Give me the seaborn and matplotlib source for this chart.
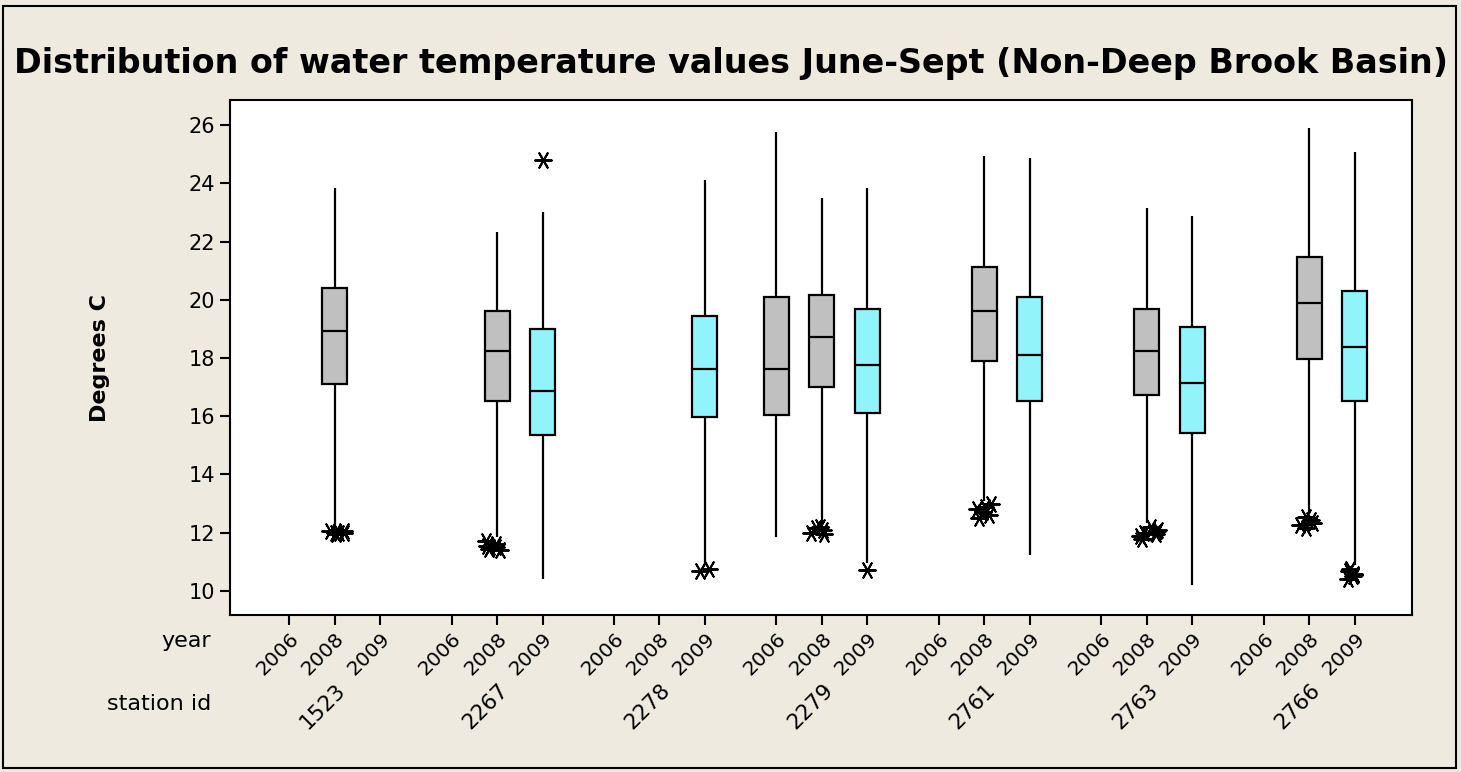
import numpy as np
import pandas as pd
import matplotlib
matplotlib.use('Agg')
import matplotlib.pyplot as plt
import seaborn as sns
from matplotlib.patches import Rectangle


# ---------------------------------------------- Data -----------------------------------------------

stations = ['1523', '2267', '2278', '2279', '2761', '2763', '2766']
years = ['2006', '2008', '2009']

# one entry per drawn box
box_station = ['1523', '2267', '2267', '2278', '2279', '2279', '2279', '2761', '2761', '2763', '2763', '2766', '2766']
box_year = ['2008', '2008', '2009', '2009', '2006', '2008', '2009', '2008', '2009', '2008', '2009', '2008', '2009']
box_low = [12.1, 11.85, 10.41, 10.9, 11.87, 12.3, 10.95, 13.1, 11.24, 12.35, 10.21, 12.65, 10.9]
box_q1 = [17.12, 16.52, 15.36, 15.96, 16.03, 17.0, 16.1, 17.89, 16.51, 16.72, 15.41, 17.96, 16.51]
box_med = [18.93, 18.24, 16.87, 17.61, 17.61, 18.71, 17.75, 19.6, 18.09, 18.24, 17.13, 19.89, 18.37]
box_q3 = [20.41, 19.61, 18.98, 19.45, 20.08, 20.15, 19.67, 21.11, 20.08, 19.67, 19.05, 21.47, 20.29]
box_high = [23.85, 22.34, 23.02, 24.11, 25.77, 23.5, 23.85, 24.95, 24.88, 23.16, 22.89, 25.91, 25.08]

# outliers (asterisks)
out_station = (['1523'] * 6 + ['2267'] * 7 + ['2267'] + ['2278'] * 2 + ['2279'] * 5 + ['2279']
               + ['2761'] * 6 + ['2763'] * 8 + ['2766'] * 5 + ['2766'] * 6)
out_year = (['2008'] * 6 + ['2008'] * 7 + ['2009'] + ['2009'] * 2 + ['2008'] * 5 + ['2009']
            + ['2008'] * 6 + ['2008'] * 8 + ['2008'] * 5 + ['2009'] * 6)
out_value = ([11.95, 12.0, 12.05, 12.0, 12.05, 11.98]
             + [11.45, 11.5, 11.55, 11.6, 11.7, 11.5, 11.4]
             + [24.8]
             + [10.7, 10.75]
             + [11.95, 12.0, 12.1, 12.15, 12.2]
             + [10.72]
             + [12.5, 12.6, 12.7, 12.8, 12.9, 13.0]
             + [11.8, 11.9, 12.0, 12.05, 12.1, 12.2, 11.95, 12.0]
             + [12.15, 12.25, 12.35, 12.45, 12.55]
             + [10.4, 10.5, 10.6, 10.7, 10.75, 10.55])

year_colors = {'2006': '#C0C0C0', '2008': '#C0C0C0', '2009': '#90F4FA'}

# ---------------------------------------------- Layout helpers -----------------------------------------------

group_gap = 3.57  # slot units between station groups


def slot(station, year):
	return stations.index(station) * group_gap + years.index(year)


# Long-form frames for seaborn
rows = []
for i in range(len(box_station)):
	pos = slot(box_station[i], box_year[i])
	for v in (box_low[i], box_q1[i], box_med[i], box_q3[i], box_high[i]):
		rows.append({'pos': pos, 'year': box_year[i], 'temp': v})
box_df = pd.DataFrame(rows)

out_df = pd.DataFrame({
	'pos': [slot(s, y) for s, y in zip(out_station, out_year)],
	'temp': out_value,
})

# ---------------------------------------------- Plot -----------------------------------------------

sns.set_style('ticks')
plt.rcParams['font.family'] = ['DejaVu Sans']
plt.rcParams['text.color'] = 'black'
plt.rcParams['xtick.color'] = 'black'
plt.rcParams['ytick.color'] = 'black'
plt.rcParams['xtick.labelcolor'] = 'black'
plt.rcParams['ytick.labelcolor'] = 'black'
bg = '#EEEAE0'

fig = plt.figure(figsize=(14.61, 7.72), dpi=100, facecolor=bg)
ax = fig.add_axes([0.1574, 0.2034, 0.8091, 0.6671])
ax.set_facecolor('white')

sns.boxplot(data=box_df, x='pos', y='temp', hue='year', hue_order=years, palette=year_colors,
			native_scale=True, width=0.55, whis=(0, 100), saturation=1, linecolor='black',
			linewidth=1.6, showcaps=False, legend=False, orient='x', ax=ax)

np.random.seed(3)
sns.stripplot(data=out_df, x='pos', y='temp', native_scale=True, jitter=0.25, color='black',
			  marker=(6, 2, 90), size=12, linewidth=1.4, edgecolor='black', orient='x', ax=ax)

# Axes limits and ticks
ax.set_ylim(9.176, 26.86)
ax.set_xlim(-1.30, 24.68)
ax.set_yticks(np.arange(10, 27, 2))
ax.tick_params(axis='y', labelsize=15, length=7, width=1.5, direction='out')

xt = [slot(s, y) for s in stations for y in years]
ax.set_xticks(xt)
ax.set_xticklabels(years * len(stations), rotation=45, ha='right', rotation_mode='anchor', fontsize=14.5)
ax.tick_params(axis='x', length=7, width=1.5, direction='out', pad=3)
ax.set_xlabel('')
ax.set_ylabel('')
for sp in ax.spines.values():
	sp.set_visible(True)
	sp.set_linewidth(1.5)
	sp.set_color('black')

# Station labels under the year labels
for s in stations:
	ax.text(slot(s, '2008') + 0.02, -0.126, s, transform=ax.get_xaxis_transform(), rotation=45,
			ha='right', va='top', rotation_mode='anchor', fontsize=15.5)

# Row names and axis titles
fig.text(211 / 1461, 1 - 641 / 772, 'year', ha='right', va='center', fontsize=16)
fig.text(211 / 1461, 1 - 704 / 772, 'station id', ha='right', va='center', fontsize=16)
fig.text(100 / 1461, 1 - 358 / 772, 'Degrees C', rotation=90, ha='center', va='center',
		 fontsize=16, fontweight='bold')
fig.text(0.5, 1 - 63 / 772, 'Distribution of water temperature values June-Sept (Non-Deep Brook Basin)',
		 ha='center', va='center', fontsize=24, fontweight='bold')

# Outer frame
fig.patches.append(Rectangle((3 / 1461, 4 / 772), 1453 / 1461, 762 / 772, transform=fig.transFigure,
							 fill=False, edgecolor='black', linewidth=1.5))

fig.savefig('out.png', dpi=100, facecolor=bg)
